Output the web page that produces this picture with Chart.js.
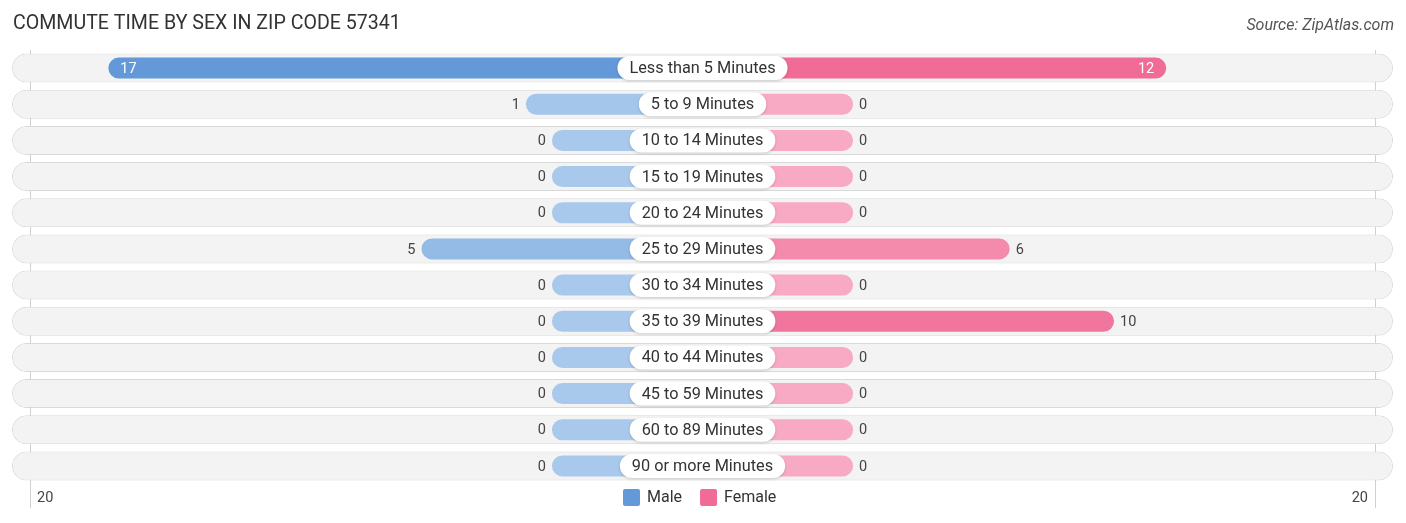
<!DOCTYPE html>
<html>
<head>
<meta charset="utf-8">
<script src="https://cdn.jsdelivr.net/npm/chart.js@4/dist/chart.umd.min.js"></script>
<style>
  html, body { margin: 0; padding: 0; background: #fff; }
  #wrap { position: relative; width: 1406px; height: 523px; }
</style>
</head>
<body>
<div id="wrap"><canvas id="chart"></canvas></div>
<script>
// data
const categories = [
  "Less than 5 Minutes", "5 to 9 Minutes", "10 to 14 Minutes", "15 to 19 Minutes",
  "20 to 24 Minutes", "25 to 29 Minutes", "30 to 34 Minutes", "35 to 39 Minutes",
  "40 to 44 Minutes", "45 to 59 Minutes", "60 to 89 Minutes", "90 or more Minutes"
];
const male = [17, 1, 0, 0, 0, 5, 0, 0, 0, 0, 0, 0];
const female = [12, 0, 0, 0, 0, 6, 0, 10, 0, 0, 0, 0];
const axisMax = 20;
const axisLabels = ["20", "20"];

const OFF = 5.77;   // stub so that zero bars still show behind the label
const R = 26.46;    // half range of the pill rows
const FONT = "Roboto, 'Noto Sans', sans-serif";

function mix(a, b, t) {
  const p = x => [1, 3, 5].map(i => parseInt(x.substr(i, 2), 16));
  const ca = p(a), cb = p(b);
  return "rgb(" + ca.map((c, i) => Math.round(c + (cb[i] - c) * t)).join(",") + ")";
}
const maleMax = Math.max(...male), femaleMax = Math.max(...female);
const maleColors = male.map(v => mix("#a9c9ec", "#6399d8", v / maleMax));
const femaleColors = female.map(v => mix("#f8aac4", "#f06b96", v / femaleMax));

const labelPlugin = {
  id: "labels",
  beforeDatasetsDraw(chart) {
    const ctx = chart.ctx, xs = chart.scales.x, area = chart.chartArea;
    // faint lines at +-20
    ctx.save();
    ctx.strokeStyle = "#d0d0d0";
    ctx.lineWidth = 1;
    [-(OFF + axisMax), OFF + axisMax].forEach(v => {
      const x = Math.round(xs.getPixelForValue(v)) + 0.5;
      ctx.beginPath();
      ctx.moveTo(x, area.top);
      ctx.lineTo(x, 508);
      ctx.stroke();
    });
    ctx.restore();
  },
  afterDatasetsDraw(chart) {
    const ctx = chart.ctx, xs = chart.scales.x, ys = chart.scales.y;
    const cx = xs.getPixelForValue(0);
    ctx.save();
    ctx.textBaseline = "middle";
    categories.forEach((c, i) => {
      const y = ys.getPixelForValue(i);
      // category label box
      ctx.font = "16.3px " + FONT;
      const w = ctx.measureText(c).width + 24, h = 24;
      ctx.fillStyle = "#fff";
      ctx.shadowColor = "rgba(0,0,0,0.18)";
      ctx.shadowBlur = 3;
      ctx.shadowOffsetY = 1;
      ctx.beginPath();
      ctx.roundRect(cx - w / 2, y - h / 2, w, h, h / 2);
      ctx.fill();
      ctx.shadowColor = "transparent";
      ctx.fillStyle = "#333";
      ctx.textAlign = "center";
      ctx.fillText(c, cx, y + 1);

      // values
      ctx.font = "14.5px " + FONT;
      const mx = xs.getPixelForValue(-(OFF + male[i]));
      if (male[i] >= 11) {
        ctx.fillStyle = "#fff"; ctx.textAlign = "left";
        ctx.fillText(String(male[i]), mx + 12, y + 1);
      } else {
        ctx.fillStyle = "#444"; ctx.textAlign = "right";
        ctx.fillText(String(male[i]), mx - 6, y + 1);
      }
      const fx = xs.getPixelForValue(OFF + female[i]);
      if (female[i] >= 11) {
        ctx.fillStyle = "#fff"; ctx.textAlign = "right";
        ctx.fillText(String(female[i]), fx - 12, y + 1);
      } else {
        ctx.fillStyle = "#444"; ctx.textAlign = "left";
        ctx.fillText(String(female[i]), fx + 6, y + 1);
      }
    });

    // axis end labels
    ctx.font = "14.5px " + FONT;
    ctx.fillStyle = "#444";
    ctx.textAlign = "left";
    ctx.fillText(axisLabels[0], xs.getPixelForValue(-(OFF + axisMax)) + 7, 498);
    ctx.textAlign = "right";
    ctx.fillText(axisLabels[1], xs.getPixelForValue(OFF + axisMax) - 7, 498);

    // legend
    ctx.font = "16px " + FONT;
    const items = [["Male", "#6399d8"], ["Female", "#f06b96"]];
    let lx = 623;
    items.forEach(([t, col]) => {
      ctx.fillStyle = col;
      ctx.beginPath();
      ctx.roundRect(lx, 489, 17, 17, 2);
      ctx.fill();
      ctx.fillStyle = "#333";
      ctx.textAlign = "left";
      ctx.fillText(t, lx + 24, 498);
      lx += 24 + ctx.measureText(t).width + 18;
    });

    // title and source
    ctx.textBaseline = "alphabetic";
    ctx.font = "19.6px " + FONT;
    ctx.fillStyle = "#333";
    ctx.textAlign = "left";
    ctx.fillText("COMMUTE TIME BY SEX IN ZIP CODE 57341", 13, 29);
    ctx.font = "italic 16px " + FONT;
    ctx.fillStyle = "#555";
    ctx.textAlign = "right";
    ctx.fillText("Source: ZipAtlas.com", 1394, 30);
    ctx.restore();
  }
};

new Chart(document.getElementById("chart"), {
  type: "bar",
  data: {
    labels: categories,
    datasets: [
      {
        label: "bg",
        data: categories.map(() => [-R, R]),
        backgroundColor: "#f3f3f3",
        borderColor: "#d9d9d9",
        borderWidth: 1,
        borderRadius: 15,
        borderSkipped: false,
        barPercentage: 0.8,
        categoryPercentage: 1,
        grouped: false,
        order: 3
      },
      {
        label: "Male",
        data: male.map(v => [-(OFF + v), 0]),
        backgroundColor: maleColors,
        borderRadius: 11,
        borderSkipped: false,
        barPercentage: 0.58,
        categoryPercentage: 1,
        grouped: false,
        order: 1
      },
      {
        label: "Female",
        data: female.map(v => [0, OFF + v]),
        backgroundColor: femaleColors,
        borderRadius: 11,
        borderSkipped: false,
        barPercentage: 0.58,
        categoryPercentage: 1,
        grouped: false,
        order: 1
      }
    ]
  },
  options: {
    indexAxis: "y",
    responsive: true,
    maintainAspectRatio: false,
    animation: false,
    layout: { padding: { left: 12, right: 13, top: 50, bottom: 39 } },
    scales: {
      x: { display: false, min: -R, max: R },
      y: { display: false }
    },
    plugins: {
      legend: { display: false },
      tooltip: { enabled: false }
    }
  },
  plugins: [labelPlugin]
});
</script>
</body>
</html>
